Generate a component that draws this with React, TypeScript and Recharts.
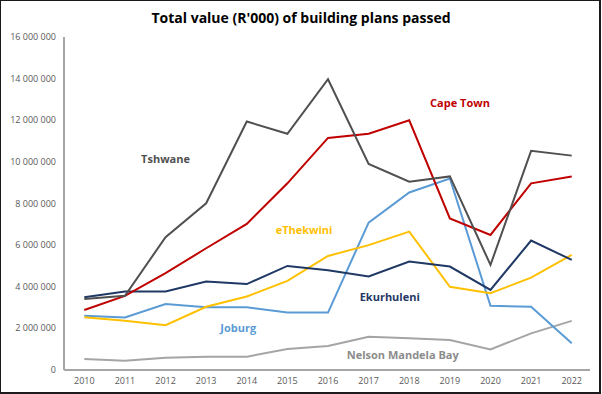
import { LineChart, Line, XAxis, YAxis, ReferenceDot } from 'recharts'

const years = [2010, 2011, 2012, 2013, 2014, 2015, 2016, 2017, 2018, 2019, 2020, 2021, 2022]

// values in R'000
const tshwane = [3410000, 3570000, 6380000, 8010000, 11940000, 11350000, 13970000, 9900000, 9050000, 9300000, 5050000, 10530000, 10300000]
const capeTown = [2880000, 3560000, 4650000, 5850000, 7020000, 8970000, 11150000, 11350000, 12000000, 7280000, 6490000, 8970000, 9300000]
const joburg = [2610000, 2520000, 3170000, 3010000, 3010000, 2760000, 2760000, 7080000, 8530000, 9200000, 3090000, 3040000, 1280000]
const ethekwini = [2530000, 2370000, 2150000, 3040000, 3530000, 4280000, 5480000, 6000000, 6650000, 4000000, 3690000, 4440000, 5530000]
const ekurhuleni = [3490000, 3770000, 3770000, 4250000, 4130000, 5000000, 4790000, 4490000, 5210000, 4970000, 3850000, 6220000, 5290000]
const nelsonMandelaBay = [530000, 450000, 590000, 640000, 640000, 1010000, 1150000, 1600000, 1520000, 1440000, 990000, 1760000, 2360000]

const yTicks = [0, 2000000, 4000000, 6000000, 8000000, 10000000, 12000000, 14000000, 16000000]

const data = years.map((year, i) => ({
  year,
  tshwane: tshwane[i],
  capeTown: capeTown[i],
  joburg: joburg[i],
  ethekwini: ethekwini[i],
  ekurhuleni: ekurhuleni[i],
  nmb: nelsonMandelaBay[i],
}))

const font = '"Century Gothic", "Open Sans", sans-serif'

const fmt = (v: number) => v.toLocaleString('en-US').replace(/,/g, ' ')

const seriesLabels = [
  { name: 'Tshwane', x: 2012.0, y: 10140000, color: '#505050' },
  { name: 'Cape Town', x: 2019.25, y: 12840000, color: '#C00000' },
  { name: 'eThekwini', x: 2015.41, y: 6730000, color: '#FFC000' },
  { name: 'Ekurhuleni', x: 2017.52, y: 3510000, color: '#1F3864' },
  { name: 'Joburg', x: 2013.79, y: 2020000, color: '#5B9BD5' },
  { name: 'Nelson Mandela Bay', x: 2017.84, y: 720000, color: '#8C8C8C' },
]

const YTick = (props: any) => {
  const { x, y, payload } = props
  return (
    <text x={x} y={y} dy={3} textAnchor="end" fill="#595959" fontSize={9} fontFamily={font}>
      {fmt(payload.value)}
    </text>
  )
}

const XTick = (props: any) => {
  const { x, y, payload } = props
  return (
    <text x={x} y={y} dy={8} textAnchor="middle" fill="#595959" fontSize={9} fontFamily={font}>
      {payload.value}
    </text>
  )
}

export default function App() {
  return (
    <div style={{ position: 'fixed', left: 0, top: 0, width: 602, height: 394, background: '#fff' }}>
      <div
        style={{
          position: 'absolute', left: 0, top: 0, width: 601, height: 394,
          border: '2px solid #1a1a1a', borderTopWidth: 1, borderLeftWidth: 1.5, boxSizing: 'border-box',
        }}
      />
      <div
        style={{
          position: 'absolute', left: 0, top: 8, width: 602, textAlign: 'center',
          fontFamily: font, fontWeight: 'bold', fontSize: 14, color: '#000',
        }}
      >
        Total value (R'000) of building plans passed
      </div>
      <LineChart width={602} height={394} data={data} margin={{ top: 37, right: 12, bottom: 4, left: 8 }}>
        <XAxis
          dataKey="year"
          type="number"
          domain={[2009.5, 2022.45]}
          ticks={years}
          tickLine={false}
          tickSize={4}
          height={20}
          stroke="#A6A6A6"
          strokeWidth={2}
          tick={<XTick />}
        />
        <YAxis
          domain={[0, 16000000]}
          ticks={yTicks}
          tickLine={false}
          width={56}
          stroke="#A6A6A6"
          strokeWidth={2}
          tick={<YTick />}
        />
        <Line dataKey="nmb" stroke="#A5A5A5" strokeWidth={2} dot={false} isAnimationActive={false} />
        <Line dataKey="joburg" stroke="#5B9BD5" strokeWidth={2} dot={false} isAnimationActive={false} />
        <Line dataKey="ethekwini" stroke="#FFC000" strokeWidth={2} dot={false} isAnimationActive={false} />
        <Line dataKey="ekurhuleni" stroke="#1F3864" strokeWidth={2} dot={false} isAnimationActive={false} />
        <Line dataKey="capeTown" stroke="#C00000" strokeWidth={2} dot={false} isAnimationActive={false} />
        <Line dataKey="tshwane" stroke="#505050" strokeWidth={2} dot={false} isAnimationActive={false} />
        {seriesLabels.map((l) => (
          <ReferenceDot
            key={l.name}
            x={l.x}
            y={l.y}
            r={0}
            fill="none"
            stroke="none"
            label={{ value: l.name, position: 'center', fill: l.color, fontSize: 11, fontWeight: 'bold', fontFamily: font }}
          />
        ))}
      </LineChart>
    </div>
  )
}
